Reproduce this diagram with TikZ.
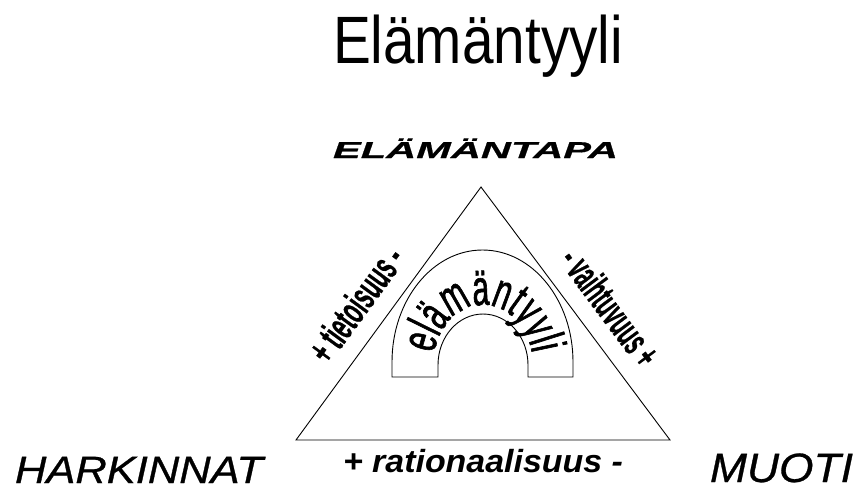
\documentclass[tikz,border=0pt]{standalone}
\usepackage{fontspec}
\usepackage{graphicx}
\setmainfont{Liberation Sans}
\newfontfamily\archfont[FakeStretch=0.6,FakeBold=1.2]{Liberation Sans}
\newfontfamily\sidefont[FakeBold=0.8]{Liberation Sans Bold}
\newfontfamily\cornerfont[FakeBold=0.7]{Liberation Sans Italic}
\newfontfamily\tapafont[FakeBold=0.5]{Liberation Sans Bold Italic}
\usetikzlibrary{calc,decorations.text}
\tikzset{
  lbl/.style={inner sep=0pt, outer sep=0pt, anchor=base west},
  sidelbl/.style={inner sep=0pt, outer sep=0pt},
  shapeline/.style={draw=black, line width=0.9pt, line join=miter},
}
\begin{document}
\begin{tikzpicture}[x=1pt,y=1pt]
\fill[white] (0,0) rectangle (856,-488);
\useasboundingbox (0,0) rectangle (856,-488);

% title and corner labels
\node[lbl] (title) at (333,-63) {\resizebox{290pt}{\height}{\fontsize{67}{67}\selectfont Elämäntyyli}};
\node[lbl] (tapa) at (333,-158) {\resizebox{285pt}{\height}{\fontsize{23}{23}\selectfont\tapafont ELÄMÄNTAPA}};
\node[lbl] (hark) at (15,-483) {\resizebox{248pt}{\height}{\fontsize{38}{38}\selectfont\cornerfont HARKINNAT}};
\node[lbl] (muoti) at (710,-482) {\resizebox{143pt}{\height}{\fontsize{41}{41}\selectfont\cornerfont MUOTI}};
\node[lbl] (rat) at (343,-472) {\resizebox{280pt}{\height}{\fontsize{32}{32}\selectfont\bfseries\itshape + rationaalisuus -}};

% triangle
\coordinate (A) at (481,-187);
\coordinate (BL) at (296,-440);
\coordinate (BR) at (670,-440);
\draw[shapeline] (A) -- (BL) -- (BR) -- cycle;

% side labels
\coordinate (lm) at ($(BL)!0.463!(A)$);
\coordinate (rm) at ($(A)!0.549!(BR)$);
\node[sidelbl, rotate=53.83] (tiet) at ($(lm)!32pt!90:(A)$)
  {\resizebox{132pt}{\height}{\fontsize{40}{40}\selectfont\sidefont + tietoisuus -}};
\node[sidelbl, rotate=-53.24] (vaiht) at ($(rm)!32pt!90:(BR)$)
  {\resizebox{136pt}{\height}{\fontsize{40}{40}\selectfont\sidefont - vaihtuvuus +}};

% arch
\draw[shapeline] (392,-377) -- (392,-362)
  arc[start angle=180, end angle=0, x radius=90.5, y radius=112]
  -- (573,-377) -- (528,-377) -- (528,-365)
  arc[start angle=0, end angle=180, x radius=45, y radius=51]
  -- (438,-377) -- cycle;

% curved text
\path[decorate, decoration={text along path,
  text={|\archfont\fontsize{50}{50}\selectfont|elämäntyyli},
  text align=center}]
  (433,-365) arc[start angle=180, end angle=0, x radius=50, y radius=60];
\end{tikzpicture}
\end{document}
